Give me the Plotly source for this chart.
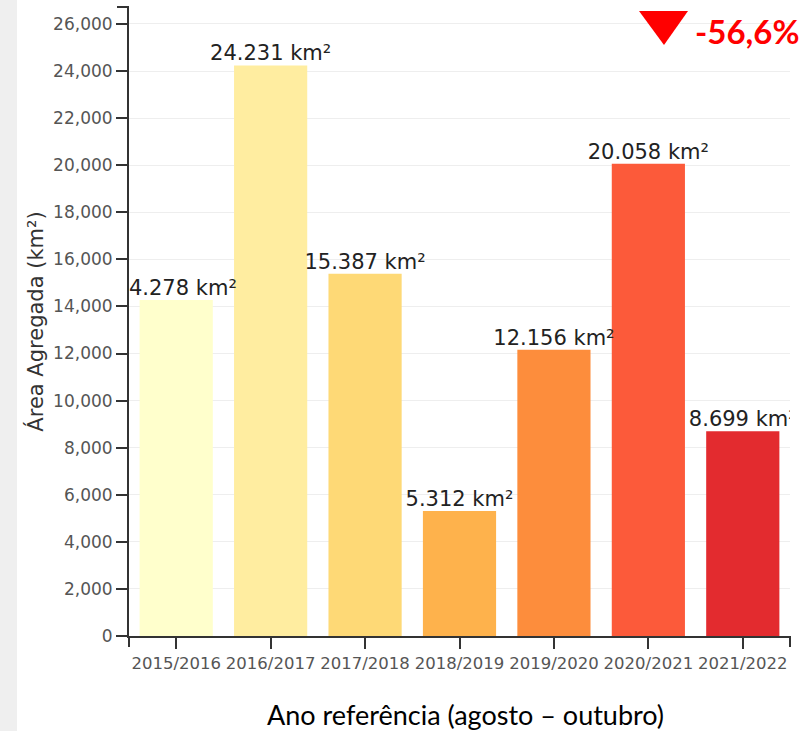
import plotly.graph_objects as go

categories = ["2015/2016", "2016/2017", "2017/2018", "2018/2019", "2019/2020", "2020/2021", "2021/2022"]
values = [14278, 24231, 15387, 5312, 12156, 20058, 8699]
labels = ["14.278 km²", "24.231 km²", "15.387 km²", "5.312 km²", "12.156 km²", "20.058 km²", "8.699 km²"]
colors = ["#ffffcc", "#ffeda0", "#fed976", "#feb24c", "#fd8d3c", "#fc5a3a", "#e32b2f"]
y_ticks = list(range(0, 26001, 2000))
y_ticktext = [f"{v:,}" for v in y_ticks]
change_text = "-56,6%"

W, H = 809, 731
L, R, T, B = 129, 19, 7, 95
PW, PH = W - L - R, H - T - B


def px(x):
    return (x - L) / PW


def py(y):
    return (H - B - y) / PH


fig = go.Figure()
fig.add_trace(go.Bar(x=categories, y=values, marker=dict(color=colors, line=dict(width=0)),
                     hoverinfo="skip", showlegend=False))
fig.add_trace(go.Scatter(x=categories, y=values, mode="text", text=labels,
                         textposition="top center", cliponaxis=True,
                         textfont=dict(family="DejaVu Sans", size=21, color="#222"),
                         hoverinfo="skip", showlegend=False))

axis_col = "#333"
shapes = [
    # left gray strip
    dict(type="rect", xref="paper", yref="paper", x0=px(0), x1=px(17), y0=py(H), y1=py(0),
         fillcolor="#efefef", line=dict(width=0), layer="below"),
    # outer ticks (d3 style)
    dict(type="line", xref="paper", yref="paper", x0=px(117), x1=0, y0=1, y1=1,
         line=dict(color=axis_col, width=2)),
    dict(type="line", xref="paper", yref="paper", x0=0, x1=0, y0=0, y1=py(647),
         line=dict(color=axis_col, width=2)),
    dict(type="line", xref="paper", yref="paper", x0=1, x1=1, y0=0, y1=py(647),
         line=dict(color=axis_col, width=2)),
    # red down triangle
    dict(type="path", xref="paper", yref="paper",
         path=f"M {px(639)} {py(11)} L {px(688)} {py(11)} L {px(664)} {py(45)} Z",
         fillcolor="#ff0000", line=dict(width=0)),
]

annotations = [
    dict(text=change_text, xref="paper", yref="paper", x=px(693), y=py(31), xanchor="left",
         yanchor="middle", showarrow=False,
         font=dict(family="Lato", size=33, color="#ff0000", weight="bold")),
    dict(text="Ano referência (agosto – outubro)", xref="paper", yref="paper", x=px(465),
         y=py(714), xanchor="center", yanchor="middle", showarrow=False,
         font=dict(family="Lato", size=27, color="#000")),
]

fig.update_layout(
    width=W, height=H,
    margin=dict(l=L, r=R, t=T, b=B),
    paper_bgcolor="white", plot_bgcolor="white",
    bargap=0.225,
    shapes=shapes,
    annotations=annotations,
    xaxis=dict(range=[-0.5, 6.5], showline=True, linecolor=axis_col, linewidth=2,
               ticks="outside", ticklen=11, tickwidth=2, tickcolor=axis_col,
               tickfont=dict(family="DejaVu Sans", size=16.5, color="#555"),
               showgrid=False, zeroline=False),
    yaxis=dict(range=[0, 26720], tickvals=y_ticks, ticktext=y_ticktext,
               showline=True, linecolor=axis_col, linewidth=2,
               ticks="outside", ticklen=11, tickwidth=2, tickcolor=axis_col,
               tickfont=dict(family="DejaVu Sans", size=17, color="#555"),
               showgrid=True, gridcolor="#eeeeee", gridwidth=1, zeroline=False,
               title=dict(text="Área Agregada (km²)", standoff=4,
                          font=dict(family="DejaVu Sans", size=21, color="#333"))),
)

fig.write_html("out.html", config={"displayModeBar": False},
               post_script="document.body.style.margin='0';document.body.style.overflow='hidden';")
